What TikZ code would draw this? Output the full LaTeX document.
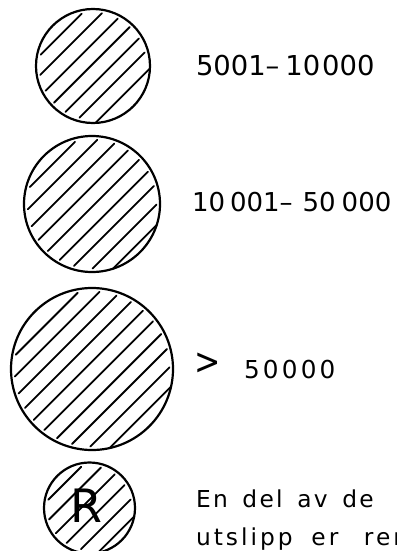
\documentclass[tikz,border=0pt]{standalone}
\usepackage{fontspec}
\newfontfamily\lett{DejaVu Sans}
\newfontfamily\numfont{DejaVu Sans}
\newfontfamily\txtfont[LetterSpace=10,WordSpace=1.5]{DejaVu Sans}
\usetikzlibrary{calc}
\tikzset{
  ring/.style={circle, draw, line width=2.2pt, inner sep=0pt, outer sep=0pt},
  hatch/.style={line width=1.8pt, line cap=round},
  txt/.style={anchor=base west, inner sep=0pt, outer sep=0pt},
}
% name, x, y, radius, offsets of inset lines, offset of the line touching the rim
\newcommand\hatchcircle[6]{%
  \node[ring, minimum size=#4*2pt] (#1) at (#2,#3) {};
  \foreach \d in {#5} {
    \pgfmathsetmacro\hh{sqrt(max((#4-3.5)^2-(\d)^2,1))}
    \draw[hatch] ($(#1.center)+({(\d+\hh)*0.7071},{(\d-\hh)*0.7071})$) --
                 ($(#1.center)+({(\d-\hh)*0.7071},{(\d+\hh)*0.7071})$);
  }
  \pgfmathsetmacro\hh{sqrt(max((#4)^2-(#6)^2,1))}
  \draw[hatch] ($(#1.center)+({(#6+\hh)*0.7071},{(#6-\hh)*0.7071})$) --
               ($(#1.center)+({(#6-\hh)*0.7071},{(#6+\hh)*0.7071})$);
}
\begin{document}
\begin{tikzpicture}[x=1pt,y=-1pt]
\useasboundingbox (0,0) rectangle (396,551);
\begin{scope}
\clip (0,0) rectangle (396,551);
\hatchcircle{c1}{93}{66}{57}{-45,-31,-16,-1.6,13,27}{42}
\hatchcircle{c2}{92}{204}{68}{-56,-41.7,-27,-12.5,2,16.7,31,46}{60.5}
\hatchcircle{c3}{92}{369}{81}{-64,-49.3,-34.6,-19.9,-5.2,9.5,24.2,38.9,53.6}{68.3}
\hatchcircle{c4}{89.5}{508}{45.5}{-35,-20.5,-6,8.5,23}{37.5}
\end{scope}
\node[inner sep=0pt, font=\lett\fontsize{46}{46}\selectfont] (R) at (86.5,506) {R};

\node[txt, font=\numfont\fontsize{27.4}{30}\selectfont] (t1) at (196,75) {5001–\kern6pt10\kern2pt000};
\node[txt, font=\numfont\fontsize{26}{30}\selectfont] (t2) at (192,211) {10\kern5pt001–\kern10pt50\kern6pt000};
\node[inner sep=0pt, font=\lett\fontsize{37}{37}\selectfont] (gt) at (207.5,363.5) {\scalebox{0.85}[1]{>}};
\node[txt, font=\numfont\fontsize{24.7}{28}\selectfont\addfontfeature{LetterSpace=13}] (t3) at (244,378) {50000};
\node[txt, font=\txtfont\fontsize{23.3}{38}\selectfont] (t4a) at (196,507) {En del av de};
\node[txt, font=\txtfont\fontsize{23.3}{38}\selectfont\addfontfeature{LetterSpace=13}] (t4b) at (196,545) {utslipp\kern3pt{} er\kern10pt{} ren};
\end{tikzpicture}
\end{document}
